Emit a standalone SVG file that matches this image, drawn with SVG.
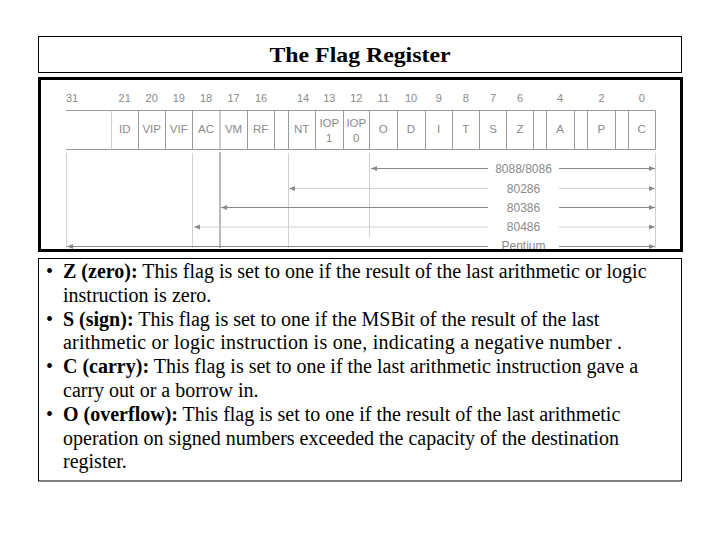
<svg xmlns="http://www.w3.org/2000/svg" width="720" height="540" viewBox="0 0 720 540">
<style>
.num{font-family:"Liberation Sans",Arial,sans-serif;font-size:11px;fill:#8a8a8a;text-anchor:middle}
.cell{font-family:"Liberation Sans",Arial,sans-serif;font-size:11.5px;fill:#8a8a8a;text-anchor:middle}
.chip{font-family:"Liberation Sans",Arial,sans-serif;font-size:12px;fill:#8a8a8a;text-anchor:middle}
.grid{stroke:#9a9a9a;stroke-width:1;fill:none}
.lt{stroke:#cfcfcf;stroke-width:1;fill:none}
.dk{stroke:#8a8a8a;stroke-width:1.2;fill:none}
.body{font-family:"Liberation Serif","Times New Roman",serif;font-size:20px;fill:#000}
.title{font-family:"Liberation Serif","Times New Roman",serif;font-size:22px;font-weight:bold;fill:#000;text-anchor:middle}
</style>
<defs>
<marker id="ah" viewBox="0 0 6 6" refX="6" refY="3" markerWidth="6" markerHeight="6" orient="auto-start-reverse" markerUnits="userSpaceOnUse">
<path d="M0,0.5 L6,3 L0,5.5 Z" fill="#8a8a8a"/>
</marker>
</defs>
<rect width="720" height="540" fill="#fff"/>

<g id="title">
<rect x="38.5" y="36.5" width="643" height="36" fill="#fff" stroke="#000" stroke-width="1"/>
<text class="title" x="360" y="62" textLength="181" lengthAdjust="spacingAndGlyphs">The Flag Register</text>
</g>

<g id="figure">
<rect x="39.5" y="78.5" width="642" height="172" fill="#fff" stroke="none"/>
<g id="bit-numbers">
<text class="num" x="72" y="102">31</text>
<text class="num" x="124.7" y="102">21</text>
<text class="num" x="151.7" y="102">20</text>
<text class="num" x="178.8" y="102">19</text>
<text class="num" x="206" y="102">18</text>
<text class="num" x="233.5" y="102">17</text>
<text class="num" x="261" y="102">16</text>
<text class="num" x="303" y="102">14</text>
<text class="num" x="329.3" y="102">13</text>
<text class="num" x="356.3" y="102">12</text>
<text class="num" x="383.3" y="102">11</text>
<text class="num" x="411" y="102">10</text>
<text class="num" x="438.7" y="102">9</text>
<text class="num" x="465.8" y="102">8</text>
<text class="num" x="493" y="102">7</text>
<text class="num" x="520" y="102">6</text>
<text class="num" x="560" y="102">4</text>
<text class="num" x="601.5" y="102">2</text>
<text class="num" x="641.7" y="102">0</text>
</g>
<g id="register">
<path class="grid" d="M66,110.5 H655.5 M66,149.5 H655.5"/>
<path class="lt" d="M111.5,110.5 V149.5"/>
<path class="grid" d="M138.5,110.5 V149.5 M165.5,110.5 V149.5 M192.5,110.5 V149.5 M220,110.5 V149.5 M247.5,110.5 V149.5 M274.5,110.5 V149.5 M288.5,110.5 V149.5 M315.5,110.5 V149.5 M343.5,110.5 V149.5 M369.5,110.5 V149.5 M397.5,110.5 V149.5 M425.5,110.5 V149.5 M452.5,110.5 V149.5 M479.5,110.5 V149.5 M506.5,110.5 V149.5 M533.5,110.5 V149.5 M546.5,110.5 V149.5 M574.5,110.5 V149.5 M587.5,110.5 V149.5 M615.5,110.5 V149.5 M628.5,110.5 V149.5 M655.5,110.5 V149.5"/>
<text class="cell" x="124.7" y="133">ID</text>
<text class="cell" x="151.7" y="133">VIP</text>
<text class="cell" x="178.8" y="133">VIF</text>
<text class="cell" x="206" y="133">AC</text>
<text class="cell" x="233.5" y="133">VM</text>
<text class="cell" x="260.7" y="133">RF</text>
<text class="cell" x="301.7" y="133">NT</text>
<text class="cell" x="329.3" y="127">IOP</text>
<text class="cell" x="329.3" y="141.5">1</text>
<text class="cell" x="356.3" y="127">IOP</text>
<text class="cell" x="356.3" y="141.5">0</text>
<text class="cell" x="383.3" y="133">O</text>
<text class="cell" x="411" y="133">D</text>
<text class="cell" x="438.7" y="133">I</text>
<text class="cell" x="465.8" y="133">T</text>
<text class="cell" x="493" y="133">S</text>
<text class="cell" x="520" y="133">Z</text>
<text class="cell" x="560" y="133">A</text>
<text class="cell" x="601.3" y="133">P</text>
<text class="cell" x="641.7" y="133">C</text>
</g>
<g id="connectors">
<path class="lt" d="M66.5,153 V248 M192.5,153 V248 M288.5,153 V248 M369.5,153 V237 M655.5,153 V248"/>
<path class="dk" d="M220,152 V248"/>
<path class="dk" d="M488,168.5 H371" marker-end="url(#ah)"/>
<path class="dk" d="M559,168.5 H655" marker-end="url(#ah)"/>
<path class="lt" d="M488,188.5 H289" marker-end="url(#ah)"/>
<path class="lt" d="M559,188.5 H655" marker-end="url(#ah)"/>
<path class="dk" d="M488,207.5 H221" marker-end="url(#ah)"/>
<path class="dk" d="M559,207.5 H655" marker-end="url(#ah)"/>
<path class="lt" d="M488,227 H194" marker-end="url(#ah)"/>
<path class="lt" d="M559,227 H655" marker-end="url(#ah)"/>
<path class="dk" d="M488,246.5 H67" marker-end="url(#ah)"/>
<path class="dk" d="M559,246.5 H655" marker-end="url(#ah)"/>
</g>
<g id="cpu-labels">
<text class="chip" x="523.5" y="172.5">8088/8086</text>
<text class="chip" x="523.5" y="192.5">80286</text>
<text class="chip" x="523.5" y="211.5">80386</text>
<text class="chip" x="523.5" y="231">80486</text>
<text class="chip" x="523.5" y="249.5">Pentium</text>
</g>
<rect x="39.5" y="78.5" width="642" height="172" fill="none" stroke="#000" stroke-width="3"/>
</g>

<g id="description">
<rect x="38.5" y="258.5" width="643" height="222.5" fill="#fff" stroke="#000" stroke-width="1"/>
<g class="body">
<text x="46" y="278">•</text>
<text x="63" y="278"><tspan font-weight="bold">Z (zero):</tspan> This flag is set to one if the result of the last arithmetic or logic</text>
<text x="63" y="301.5">instruction is zero.</text>
<text x="46" y="325.5">•</text>
<text x="63" y="325.5"><tspan font-weight="bold">S (sign):</tspan> This flag is set to one if the MSBit of the result of the last</text>
<text x="63" y="349" textLength="559">arithmetic or logic instruction is one, indicating a negative number .</text>
<text x="46" y="373">•</text>
<text x="63" y="373"><tspan font-weight="bold">C (carry):</tspan> This flag is set to one if the last arithmetic instruction gave a</text>
<text x="63" y="397">carry out or a borrow in.</text>
<text x="46" y="421">•</text>
<text x="63" y="421"><tspan font-weight="bold">O (overflow):</tspan> This flag is set to one if the result of the last arithmetic</text>
<text x="63" y="444.5">operation on signed numbers exceeded the capacity of the destination</text>
<text x="63" y="468">register.</text>
</g>
</g>
</svg>
